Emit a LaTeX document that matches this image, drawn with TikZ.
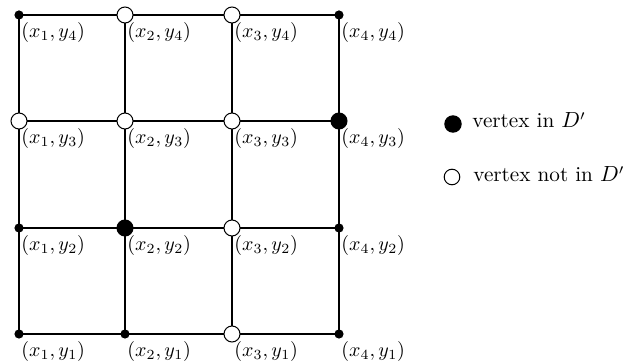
\documentclass[tikz,border=0pt]{standalone}
\begin{document}
\begin{tikzpicture}[x=0.5pt,y=-0.5pt,
  edge/.style={line width=1pt},
  bigin/.style={circle,draw,line width=0.5pt,fill=black,inner sep=0pt,minimum size=8pt},
  bigout/.style={circle,draw,line width=0.5pt,fill=white,inner sep=0pt,minimum size=8pt},
  smalldot/.style={circle,fill=black,inner sep=0pt,minimum size=4.6pt},
  lab/.style={anchor=north west,inner sep=1pt,font=\normalsize},
  legtext/.style={anchor=base west,inner sep=0pt,font=\fontsize{10.6}{13}\selectfont},
  legin/.style={circle,draw,line width=0.5pt,fill=black,inner sep=0pt,minimum size=8.2pt},
  legout/.style={circle,draw,line width=0.5pt,fill=white,inner sep=0pt,minimum size=7.8pt}]
\useasboundingbox (0,0) rectangle (623,363);
% coordinates
\foreach \i/\x in {1/19,2/125,3/232,4/339}
  \foreach \j/\y in {1/334,2/228,3/121,4/15}
    \coordinate (c\i\j) at (\x,\y);
% grid lines
\foreach \j in {1,2,3,4} \draw[edge] (c1\j) -- (c4\j);
\foreach \i in {1,2,3,4} \draw[edge] (c\i1) -- (c\i4);
% vertices
\node[smalldot] (v14) at (c14) {};
\node[bigout] (v24) at (c24) {};
\node[bigout] (v34) at (c34) {};
\node[smalldot] (v44) at (c44) {};
\node[bigout] (v13) at (c13) {};
\node[bigout] (v23) at (c23) {};
\node[bigout] (v33) at (c33) {};
\node[bigin] (v43) at (c43) {};
\node[smalldot] (v12) at (c12) {};
\node[bigin] (v22) at (c22) {};
\node[bigout] (v32) at (c32) {};
\node[smalldot] (v42) at (c42) {};
\node[smalldot] (v11) at (c11) {};
\node[smalldot] (v21) at (c21) {};
\node[bigout] (v31) at (c31) {};
\node[smalldot] (v41) at (c41) {};
% labels
\foreach \i in {1,2,3,4}
  \foreach \j in {1,2,3,4}
    \node[lab] (l\i\j) at ([yshift=-2.5]c\i\j) {$(x_{\i},y_{\j})$};
% legend
\node[legin] (k1) at (453,124) {};
\node[legtext] (t1) at (472,128) {vertex in $D'$};
\node[legout] (k2) at (452,177) {};
\node[legtext] (t2) at (473,182) {vertex not in $D'$};
\end{tikzpicture}
\end{document}
